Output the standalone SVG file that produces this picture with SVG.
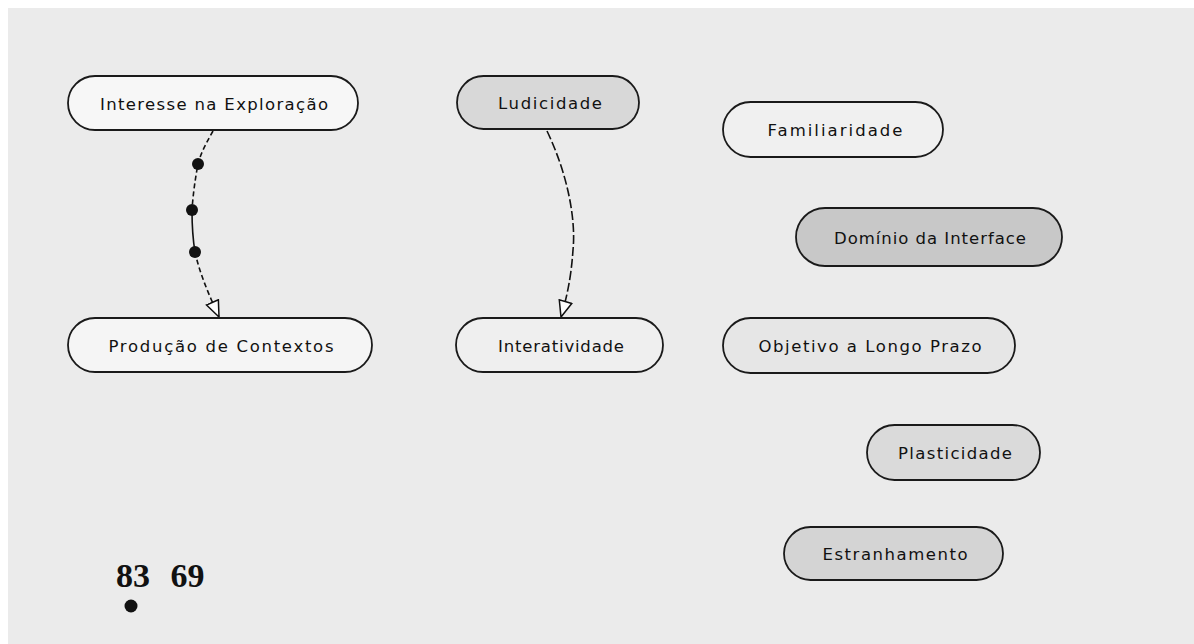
<svg xmlns="http://www.w3.org/2000/svg" width="1194" height="644" viewBox="0 0 1194 644">
<defs>
<style>
.node rect{stroke:#1a1a1a;stroke-width:1.8}
.node text{font-family:"DejaVu Sans","Liberation Sans",sans-serif;font-size:16.5px;fill:#111;text-anchor:middle;dominant-baseline:central}
.edge{fill:none;stroke:#111;stroke-width:1.6}
.dash{stroke-dasharray:5 3}
</style>
<marker id="arr" viewBox="0 0 18 16" refX="17" refY="8" markerWidth="18" markerHeight="16" markerUnits="userSpaceOnUse" orient="auto">
<path d="M1,1.5 L17,8 L1,14.5 Z" fill="#fff" stroke="#111" stroke-width="1.5"/>
</marker>
</defs>
<rect x="0" y="0" width="1194" height="644" fill="#fff"/>
<rect x="8" y="8" width="1186" height="636" fill="#ebebeb"/>
<g id="connectors">
<path class="edge dash" d="M213,131 C207,142 201,152 198,164 C195,180 193,195 192,210"/>
<path class="edge" d="M192,210 C192,225 193,240 195,252"/>
<path class="edge dash" d="M195,252 C200,275 210,297 219,317" marker-end="url(#arr)"/>
<circle cx="198" cy="164" r="6" fill="#111"/>
<circle cx="192" cy="210" r="6" fill="#111"/>
<circle cx="195" cy="252" r="6" fill="#111"/>
<path class="edge" stroke-dasharray="9 3" d="M547,131 C568,175 576,220 573,250 C571,280 566,300 561,317" marker-end="url(#arr)"/>
</g>
<g id="n-interesse" class="node"><rect x="68" y="76" width="290" height="54" rx="27" fill="#f7f7f7"/><text x="214" y="104" textLength="228" lengthAdjust="spacing">Interesse na Exploração</text></g>
<g id="n-ludicidade" class="node"><rect x="457" y="76" width="182" height="53" rx="26.5" fill="#d8d8d8"/><text x="550" y="103" textLength="104" lengthAdjust="spacing">Ludicidade</text></g>
<g id="n-familiaridade" class="node"><rect x="723" y="102" width="220" height="55" rx="27.5" fill="#f0f0f0"/><text x="835" y="130" textLength="135" lengthAdjust="spacing">Familiaridade</text></g>
<g id="n-dominio" class="node"><rect x="796" y="208" width="266" height="58" rx="29" fill="#c8c8c8"/><text x="930" y="238" textLength="192" lengthAdjust="spacing">Domínio da Interface</text></g>
<g id="n-producao" class="node"><rect x="68" y="318" width="304" height="54" rx="27" fill="#f5f5f5"/><text x="221" y="346" textLength="225" lengthAdjust="spacing">Produção de Contextos</text></g>
<g id="n-interatividade" class="node"><rect x="456" y="318" width="207" height="54" rx="27" fill="#efefef"/><text x="561" y="346" textLength="126" lengthAdjust="spacing">Interatividade</text></g>
<g id="n-objetivo" class="node"><rect x="723" y="318" width="292" height="55" rx="27.5" fill="#e6e6e6"/><text x="870" y="346" textLength="223" lengthAdjust="spacing">Objetivo a Longo Prazo</text></g>
<g id="n-plasticidade" class="node"><rect x="867" y="425" width="173" height="55" rx="27.5" fill="#dadada"/><text x="955" y="453" textLength="114" lengthAdjust="spacing">Plasticidade</text></g>
<g id="n-estranhamento" class="node"><rect x="784" y="527" width="219" height="53" rx="26.5" fill="#d4d4d4"/><text x="895" y="554" textLength="145" lengthAdjust="spacing">Estranhamento</text></g>
<text x="116" y="587" font-family="Liberation Serif, serif" font-weight="bold" font-size="34" fill="#111" word-spacing="12">83 69</text>
<circle cx="131" cy="606" r="6.5" fill="#111"/>
</svg>
